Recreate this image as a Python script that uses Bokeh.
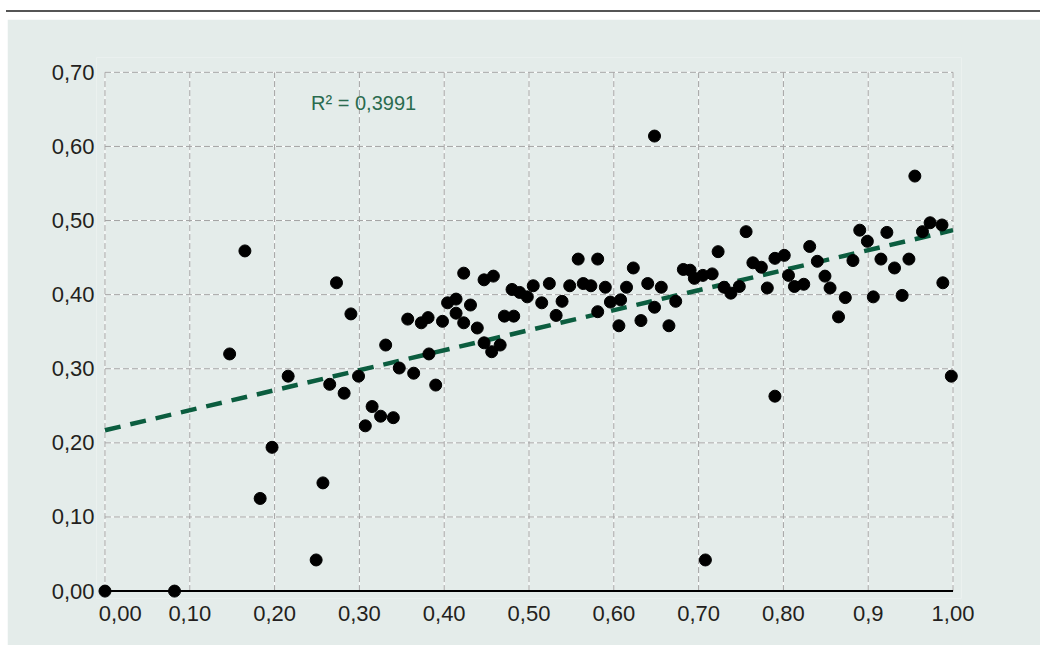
from bokeh.plotting import figure
from bokeh.models import FixedTicker, Label, Div, Range1d
from bokeh.layouts import column
from bokeh.embed import file_html
from bokeh.resources import INLINE

# ---- data ----
x_vals = [0.000, 0.082, 0.147, 0.165, 0.183, 0.197, 0.216, 0.249, 0.257, 0.265,
          0.273, 0.282, 0.290, 0.299, 0.307, 0.315, 0.325, 0.331, 0.340, 0.347,
          0.357, 0.364, 0.373, 0.381, 0.382, 0.390, 0.398, 0.404, 0.414, 0.414,
          0.423, 0.423, 0.431, 0.439, 0.447, 0.447, 0.458, 0.456, 0.466, 0.471,
          0.480, 0.482, 0.489, 0.498, 0.505, 0.515, 0.524, 0.532, 0.539, 0.548,
          0.558, 0.564, 0.573, 0.581, 0.581, 0.590, 0.596, 0.606, 0.608, 0.615,
          0.623, 0.632, 0.640, 0.648, 0.648, 0.656, 0.665, 0.673, 0.682, 0.690,
          0.695, 0.705, 0.708, 0.716, 0.723, 0.730, 0.738, 0.748, 0.756, 0.764,
          0.774, 0.781, 0.790, 0.790, 0.801, 0.806, 0.813, 0.824, 0.831, 0.840,
          0.849, 0.855, 0.865, 0.873, 0.882, 0.890, 0.899, 0.906, 0.915, 0.922,
          0.931, 0.940, 0.948, 0.955, 0.964, 0.973, 0.987, 0.988, 0.998]
y_vals = [0.000, 0.000, 0.320, 0.459, 0.125, 0.194, 0.290, 0.042, 0.146, 0.279,
          0.416, 0.267, 0.374, 0.290, 0.223, 0.249, 0.236, 0.332, 0.234, 0.301,
          0.367, 0.294, 0.362, 0.369, 0.320, 0.278, 0.364, 0.389, 0.394, 0.375,
          0.429, 0.362, 0.386, 0.355, 0.420, 0.335, 0.425, 0.323, 0.332, 0.371,
          0.407, 0.371, 0.403, 0.397, 0.412, 0.389, 0.415, 0.372, 0.391, 0.412,
          0.448, 0.415, 0.412, 0.448, 0.377, 0.410, 0.390, 0.358, 0.393, 0.410,
          0.436, 0.365, 0.415, 0.614, 0.383, 0.410, 0.358, 0.391, 0.434, 0.433,
          0.422, 0.426, 0.042, 0.428, 0.458, 0.410, 0.402, 0.411, 0.485, 0.443,
          0.437, 0.409, 0.449, 0.263, 0.453, 0.426, 0.411, 0.414, 0.465, 0.445,
          0.425, 0.409, 0.370, 0.396, 0.446, 0.487, 0.472, 0.397, 0.448, 0.484,
          0.436, 0.399, 0.448, 0.560, 0.485, 0.497, 0.494, 0.416, 0.290]

x_ticks = [0.0, 0.1, 0.2, 0.3, 0.4, 0.5, 0.6, 0.7, 0.8, 0.9, 1.0]
x_tick_labels = ["\u00a0\u00a0\u00a0\u00a0\u00a00,00", "0,10", "0,20", "0,30", "0,40", "0,50",
                 "0,60", "0,70", "0,80", "0,9", "1,00"]
y_ticks = [0.0, 0.1, 0.2, 0.3, 0.4, 0.5, 0.6, 0.7]
y_tick_labels = ["0,00", "0,10", "0,20", "0,30", "0,40", "0,50", "0,60", "0,70"]

trend_intercept = 0.217
trend_slope = 0.270
r2_text = "R\u00b2 = 0,3991"

# ---- style ----
PANEL = "#e4ecea"
FONT = "Liberation Sans"
TEXT = "#231f20"
GREEN = "#0b5d3f"
GRID = "#a3a3a3"

p = figure(frame_width=865, frame_height=541,
           x_range=Range1d(-0.01, 1.01), y_range=Range1d(-0.01, 0.72),
           output_backend="svg", toolbar_location=None,
           min_border_left=89, min_border_right=79,
           min_border_top=38, min_border_bottom=47)
p.margin = (0, 0, 0, 7)
p.background_fill_color = PANEL
p.border_fill_color = PANEL
p.outline_line_color = None
p.grid.visible = False

# grid lines (white under-line + grey dashes)
nx = len(x_ticks)
vy0 = [y_ticks[0]] * nx
vy1 = [y_ticks[-1]] * nx
hy = y_ticks[1:]
nh = len(hy)
hx0 = [x_ticks[0]] * nh
hx1 = [x_ticks[-1]] * nh
for col, dash in (("white", "solid"), (GRID, "6 3")):
    p.segment(x0=x_ticks, y0=vy0, x1=x_ticks, y1=vy1,
              line_color=col, line_width=1, line_dash=dash)
    p.segment(x0=hx0, y0=hy, x1=hx1, y1=hy,
              line_color=col, line_width=1, line_dash=dash)

# x baseline (axis line at y = 0)
p.segment(x0=[x_ticks[0]], y0=[y_ticks[0]], x1=[x_ticks[-1]], y1=[y_ticks[0]],
          line_color="black", line_width=2)

# trend line
tx = [x_ticks[0], x_ticks[-1]]
ty = [trend_intercept + trend_slope * v for v in tx]
p.line(tx, ty, line_color=GREEN, line_width=4.5, line_dash="16 10")

# points
p.scatter(x_vals, y_vals, size=12, color="black")

# axes
xa = p.xaxis[0]
xa.ticker = FixedTicker(ticks=x_ticks)
xa.major_label_overrides = dict(zip(x_ticks, x_tick_labels))
xa.axis_line_color = None
xa.major_tick_line_color = None
xa.minor_tick_line_color = None
xa.major_tick_out = 0
xa.major_tick_in = 0
xa.major_label_standoff = 2
xa.major_label_text_font = FONT
xa.major_label_text_font_size = "22px"
xa.major_label_text_color = TEXT

ya = p.yaxis[0]
ya.ticker = FixedTicker(ticks=y_ticks)
ya.major_label_overrides = dict(zip(y_ticks, y_tick_labels))
ya.axis_line_color = None
ya.major_tick_line_color = None
ya.minor_tick_line_color = None
ya.major_tick_out = 0
ya.major_tick_in = 0
ya.major_label_standoff = 2
ya.major_label_text_font = FONT
ya.major_label_text_font_size = "22px"
ya.major_label_text_color = TEXT

p.add_layout(Label(x=0.243, y=0.659, text=r2_text, text_font=FONT,
                   text_font_size="20px", text_color="#2a6b4f",
                   text_baseline="alphabetic"))

top = Div(text='<div style="display:block;width:1034px;height:8px"></div>'
               '<div style="display:block;width:1034px;height:0px;margin-left:6px;'
               'border-top:2px solid #555555"></div>',
          width=1040, height=19, margin=0)

layout = column(top, p, spacing=0)

open("out.html", "w").write(file_html(layout, INLINE))
